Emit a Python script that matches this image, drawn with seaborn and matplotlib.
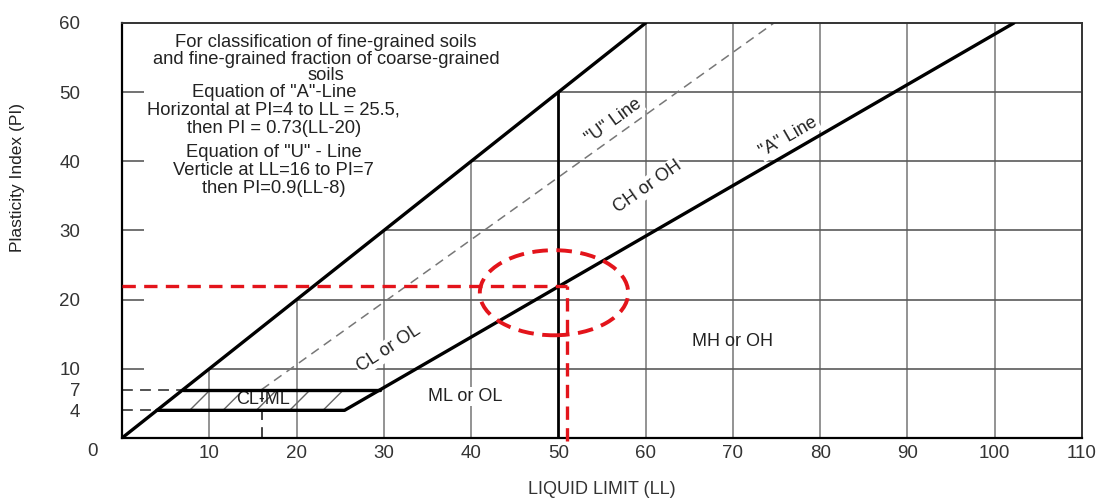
import numpy as np
import pandas as pd
import matplotlib
matplotlib.use("Agg")
import matplotlib.pyplot as plt
from matplotlib.patches import Ellipse, Polygon
import seaborn as sns

# ---------------- data ----------------
grid_ll = [10, 20, 30, 40, 60, 70, 80, 90, 100]   # vertical grid lines (LL)
grid_pi = [10, 20, 30, 40, 50]                     # horizontal grid lines (PI)
x_ticks = [10, 20, 30, 40, 50, 60, 70, 80, 90, 100, 110]
y_ticks = [4, 7, 10, 20, 30, 40, 50, 60]

upper_ll = [0, 60]          # PI = LL limit line
upper_pi = [0, 60]
a_line_ll = [4, 25.5, 102.2]   # "A" line
a_line_pi = [4, 4, 60]
u_line_ll = [16, 16, 74.7]     # "U" line
u_line_pi = [0, 7, 60]
clml_ll = [4, 25.5, 29.6, 7]   # CL-ML hatched zone
clml_pi = [4, 4, 7, 7]
ll_boundary = 50               # LL = 50 divider
sample_ll = 51                 # red sample point
sample_pi = 22
circle_center = (49.5, 21.0)
circle_size = (17.0, 12.3)

# ---------------- style ----------------
sns.set_theme(style="white")
plt.rcParams["font.family"] = ["Liberation Sans", "DejaVu Sans"]
plt.rcParams["hatch.linewidth"] = 1.0
plt.rcParams["hatch.color"] = "#555555"

fig = plt.figure(figsize=(11.05, 4.98), dpi=100)
ax = fig.add_axes([122 / 1105, 1 - 438 / 498, 960 / 1105, 415 / 498])
ax.set_xlim(0, 110)
ax.set_ylim(0, 60)

GRID_V = "#8a8a8a"
GRID_H = "#5a5a5a"
TXT = "#222222"

# grid (only below PI = LL)
gl = np.array(grid_ll, dtype=float)
ax.vlines(gl, 0, np.minimum(gl, 60), colors=GRID_V, lw=1.3, zorder=1)
gp = np.array(grid_pi, dtype=float)
ax.hlines(gp, gp, 110, colors=GRID_H, lw=1.2, zorder=1)

# LL = 50 divider
ax.vlines([ll_boundary], 0, ll_boundary, colors="black", lw=2.0, zorder=4)

# PI = LL line
sns.lineplot(x=upper_ll, y=upper_pi, ax=ax, color="black", lw=2.4,
             estimator=None, sort=False, zorder=4)
# A line
sns.lineplot(x=a_line_ll, y=a_line_pi, ax=ax, color="black", lw=2.4,
             estimator=None, sort=False, zorder=4)
# upper edge of CL-ML zone
sns.lineplot(x=[clml_ll[3], clml_ll[2]], y=[clml_pi[3], clml_pi[2]], ax=ax,
             color="black", lw=2.4, estimator=None, sort=False, zorder=4)
# U line (upper dashed part)
sns.lineplot(x=u_line_ll[1:], y=u_line_pi[1:], ax=ax, color="#777777", lw=1.1,
             linestyle=(0, (6, 4)), estimator=None, sort=False, zorder=2)
# U line vertical part
ax.vlines([u_line_ll[0]], u_line_pi[0], u_line_pi[1], colors="#333333", lw=1.3,
          linestyles=[(0, (6, 4))], zorder=2)
# dashed helpers at PI=4 and PI=7
ax.hlines([clml_pi[0], clml_pi[2]], 0, [clml_ll[0], clml_ll[3]], colors="#444444",
          lw=1.3, linestyles=[(0, (6, 4))], zorder=2)

# hatched CL-ML zone
ax.add_patch(Polygon(list(zip(clml_ll, clml_pi)), closed=True, fill=False,
                     hatch="/", edgecolor="#666666", lw=0, zorder=2))

# red sample lines
RED = "#e3141b"
ax.hlines([sample_pi], 0, sample_ll, colors=RED, lw=2.4,
          linestyles=[(0, (4, 2.5))], zorder=5)
ax.vlines([sample_ll], -0.4, sample_pi, colors=RED, lw=2.4,
          linestyles=[(0, (4, 2.5))], zorder=5, clip_on=False)
ax.add_patch(Ellipse(circle_center, circle_size[0], circle_size[1], fill=False,
                     edgecolor=RED, lw=2.8, linestyle=(0, (4, 2.2)), zorder=5))

# spines
for s in ["left", "bottom"]:
    ax.spines[s].set_color("black")
    ax.spines[s].set_linewidth(1.6)
for s in ["top", "right"]:
    ax.spines[s].set_color("#333333")
    ax.spines[s].set_linewidth(1.4)
    ax.spines[s].set_visible(True)

# ticks
FS_T = 13.5
ax.set_xticks(x_ticks)
ax.set_xticklabels([str(v) for v in x_ticks])
ax.set_yticks(y_ticks)
ax.set_yticklabels([str(v) for v in y_ticks])
ax.tick_params(axis="x", length=0, pad=5, labelsize=FS_T, labelcolor="#333333")
ax.tick_params(axis="y", direction="in", length=16, width=1.2, color=GRID_H,
               pad=30, labelsize=FS_T, labelcolor="#333333", left=True)
for t, v in zip(ax.yaxis.get_major_ticks(), y_ticks):
    if v in (4, 7, 60):
        t.tick1line.set_visible(False)
ax.text(-3.4, -2.0, "0", ha="center", va="center", fontsize=FS_T,
        color="#333333", clip_on=False)

ax.set_xlabel("LIQUID LIMIT (LL)", fontsize=13, color="#333333", labelpad=14)
ax.set_ylabel("Plasticity Index (PI)", fontsize=12.5, color="#222222")
ax.yaxis.set_label_coords(-0.101, 0.627)

# header text
FS_H = 13.2
hdr1 = ["For classification of fine-grained soils",
        "and fine-grained fraction of coarse-grained",
        "soils"]
hdr2 = ["Equation of \"A\"-Line",
        "Horizontal at PI=4 to LL = 25.5,",
        "then PI = 0.73(LL-20)",
        "Equation of \"U\" - Line",
        "Verticle at LL=16 to PI=7",
        "then PI=0.9(LL-8)"]
for s, y in zip(hdr1, [56.5, 54.1, 51.7]):
    ax.text(23.4, y, s, ha="center", va="baseline", fontsize=FS_H, color=TXT)
for s, y in zip(hdr2, [49.3, 46.7, 44.1, 40.6, 38.0, 35.4]):
    ax.text(17.4, y, s, ha="center", va="baseline", fontsize=FS_H, color=TXT)

FS_L = 13
box = dict(facecolor="white", edgecolor="none", pad=1.0)
ax.text(30.6, 12.9, "CL or OL", rotation=33, ha="center", va="center",
        fontsize=FS_L, color=TXT, bbox=box, zorder=3)
ax.text(39.3, 6.0, "ML or OL", ha="center", va="center", fontsize=FS_L,
        color=TXT, bbox=box, zorder=3)
ax.text(60.2, 36.3, "CH or OH", rotation=35, ha="center", va="center",
        fontsize=FS_L, color=TXT, bbox=box, zorder=3)
ax.text(56.3, 45.8, "\"U\" Line", rotation=36, ha="center", va="center",
        fontsize=FS_L, color=TXT, bbox=box, zorder=3)
ax.text(76.4, 43.5, "\"A\" Line", rotation=30, ha="center", va="center",
        fontsize=FS_L, color=TXT, bbox=box, zorder=3)
ax.text(70.0, 14.0, "MH or OH", ha="center", va="center", fontsize=FS_L,
        color=TXT, zorder=3)
ax.text(16.2, 5.6, "CL-ML", ha="center", va="center", fontsize=FS_L,
        color=TXT, zorder=3)

fig.savefig("out.png", dpi=100)
